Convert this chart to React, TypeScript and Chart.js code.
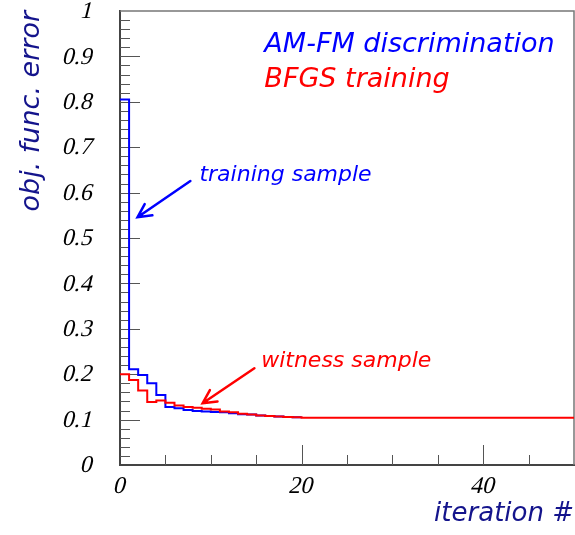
import React, { useEffect, useRef } from "react";
import { Chart, registerables } from "chart.js";

Chart.register(...registerables);

// objective function error per iteration (bin width 1)
const trainingErr = [
  0.805, 0.211, 0.198, 0.18, 0.154, 0.128, 0.125, 0.121, 0.119, 0.118,
  0.117, 0.116, 0.114, 0.112, 0.111, 0.109, 0.108, 0.107, 0.106, 0.105,
];
const witnessErr = [
  0.2, 0.187, 0.164, 0.139, 0.142, 0.137, 0.131, 0.128, 0.126, 0.124,
  0.122, 0.118, 0.116, 0.113, 0.111, 0.109, 0.108, 0.107, 0.106, 0.105,
  0.104, 0.104, 0.104, 0.104, 0.104, 0.104, 0.104, 0.104, 0.104, 0.104,
  0.104, 0.104, 0.104, 0.104, 0.104, 0.104, 0.104, 0.104, 0.104, 0.104,
  0.104, 0.104, 0.104, 0.104, 0.104, 0.104, 0.104, 0.104, 0.104, 0.104,
];

const X_MIN = 0;
const X_MAX = 50;
const Y_MIN = 0;
const Y_MAX = 1;
const X_MAJOR = 20;
const X_MINOR = 5;
const Y_MAJOR = 0.1;
const Y_MINOR = 0.02;

const titleLines = [
  { text: "AM-FM discrimination", color: "#0000ff", x: 15.9, y: 0.91 },
  { text: "BFGS training", color: "#ff0000", x: 15.9, y: 0.833 },
];
const noteTexts = [
  { text: "training sample", color: "#0000ff", x: 8.75, y: 0.626 },
  { text: "witness sample", color: "#ff0000", x: 15.55, y: 0.2165 },
];
const arrows = [
  { color: "#0000ff", from: [7.75, 0.6256], to: [1.93, 0.5456] },
  { color: "#ff0000", from: [14.8, 0.213], to: [9.1, 0.136] },
];

const BLUE = "#0000ff";
const RED = "#ff0000";
const NAVY = "#14148c";
const TICK_FONT = '24px "Liberation Serif", "Times New Roman", serif';
const SLANT = 0.25;

function histPoints(vals: number[]) {
  const pts = vals.map((v, i) => ({ x: i, y: v }));
  pts.push({ x: vals.length, y: vals[vals.length - 1] });
  return pts;
}

function fmtY(v: number) {
  return String(Math.round(v * 10) / 10);
}

function slantText(ctx: CanvasRenderingContext2D, s: string, px: number, py: number) {
  ctx.save();
  ctx.translate(px, py);
  ctx.transform(1, 0, -SLANT, 1, 0, 0);
  ctx.fillText(s, 0, 0);
  ctx.restore();
}

const rootPlugin = {
  id: "rootDecor",
  beforeDatasetsDraw(chart: any) {
    const { ctx, chartArea: a, scales } = chart;
    const x = scales.x;
    const y = scales.y;
    ctx.save();
    // frame (top, right)
    ctx.strokeStyle = "#777";
    ctx.lineWidth = 1.5;
    ctx.beginPath();
    ctx.moveTo(a.left, a.top);
    ctx.lineTo(a.right, a.top);
    ctx.lineTo(a.right, a.bottom);
    ctx.stroke();
    // ticks
    ctx.strokeStyle = "#555";
    ctx.lineWidth = 1;
    ctx.beginPath();
    const nY = Math.round((Y_MAX - Y_MIN) / Y_MINOR);
    for (let k = 1; k < nY; k++) {
      const v = Y_MIN + k * Y_MINOR;
      const isMajor = Math.abs(v / Y_MAJOR - Math.round(v / Y_MAJOR)) < 1e-6;
      const py = Math.round(y.getPixelForValue(v)) + 0.5;
      ctx.moveTo(a.left, py);
      ctx.lineTo(a.left + (isMajor ? 20 : 10), py);
    }
    const nX = Math.round((X_MAX - X_MIN) / X_MINOR);
    for (let k = 1; k < nX; k++) {
      const v = X_MIN + k * X_MINOR;
      const isMajor = v % X_MAJOR === 0;
      const px = Math.round(x.getPixelForValue(v)) + 0.5;
      ctx.moveTo(px, a.bottom);
      ctx.lineTo(px, a.bottom - (isMajor ? 20 : 10));
    }
    ctx.stroke();
    ctx.restore();
  },
  afterDraw(chart: any) {
    const { ctx, scales, chartArea: a } = chart;
    const x = scales.x;
    const y = scales.y;
    ctx.save();
    // tick labels (from the scales' own ticks), slanted like Times italic
    ctx.font = TICK_FONT;
    ctx.fillStyle = "#000";
    ctx.textAlign = "right";
    ctx.textBaseline = "middle";
    for (const t of y.ticks) {
      slantText(ctx, fmtY(t.value), a.left - 27, y.getPixelForValue(t.value) + 1);
    }
    ctx.textAlign = "center";
    ctx.textBaseline = "middle";
    for (const t of x.ticks) {
      if (t.value % X_MAJOR !== 0) continue;
      slantText(ctx, String(t.value), x.getPixelForValue(t.value), a.bottom + 22);
    }

    ctx.textBaseline = "alphabetic";
    ctx.textAlign = "left";
    ctx.font = 'italic 27px "DejaVu Sans"';
    for (const t of titleLines) {
      ctx.fillStyle = t.color;
      ctx.fillText(t.text, x.getPixelForValue(t.x), y.getPixelForValue(t.y));
    }
    ctx.font = 'italic 22px "DejaVu Sans"';
    for (const t of noteTexts) {
      ctx.fillStyle = t.color;
      ctx.fillText(t.text, x.getPixelForValue(t.x), y.getPixelForValue(t.y));
    }
    for (const ar of arrows) {
      const x0 = x.getPixelForValue(ar.from[0]);
      const y0 = y.getPixelForValue(ar.from[1]);
      const x1 = x.getPixelForValue(ar.to[0]);
      const y1 = y.getPixelForValue(ar.to[1]);
      const ang = Math.atan2(y0 - y1, x0 - x1);
      const len = 15;
      const spread = (27 * Math.PI) / 180;
      ctx.strokeStyle = ar.color;
      ctx.lineWidth = 2.5;
      ctx.lineCap = "round";
      ctx.beginPath();
      ctx.moveTo(x0, y0);
      ctx.lineTo(x1, y1);
      ctx.moveTo(x1 + len * Math.cos(ang - spread), y1 + len * Math.sin(ang - spread));
      ctx.lineTo(x1, y1);
      ctx.lineTo(x1 + len * Math.cos(ang + spread), y1 + len * Math.sin(ang + spread));
      ctx.stroke();
    }
    ctx.restore();
  },
};

export default function App() {
  const ref = useRef<HTMLCanvasElement | null>(null);
  useEffect(() => {
    document.body.style.margin = "0";
    const canvas = ref.current;
    if (!canvas) return;
    const xTitleFont = { family: "DejaVu Sans", size: 26, style: "italic" as const };
    const yTitleFont = { family: "DejaVu Sans", size: 27, style: "italic" as const };
    const chart = new Chart(canvas, {
      type: "line",
      data: {
        datasets: [
          {
            label: "witness sample",
            data: histPoints(witnessErr),
            borderColor: RED,
            borderWidth: 2,
            pointRadius: 0,
            stepped: "before",
            fill: false,
          },
          {
            label: "training sample",
            data: histPoints(trainingErr),
            borderColor: BLUE,
            borderWidth: 2,
            pointRadius: 0,
            stepped: "before",
            fill: false,
          },
        ],
      },
      options: {
        animation: false,
        responsive: false,
        maintainAspectRatio: false,
        layout: { padding: { top: 11, right: 1, left: 0, bottom: 0 } },
        plugins: { legend: { display: false }, tooltip: { enabled: false } },
        scales: {
          x: {
            type: "linear",
            min: X_MIN,
            max: X_MAX,
            grid: { display: false, drawTicks: false },
            border: { display: true, color: "#444", width: 2 },
            ticks: {
              display: false,
              stepSize: X_MAJOR,
              includeBounds: false,
            },
            title: {
              display: true,
              text: "iteration #",
              align: "end",
              color: NAVY,
              font: xTitleFont,
              padding: { top: 0, bottom: 5 },
            },
            afterFit: (s: any) => {
              s.height = 70;
              s.paddingLeft = 0;
              s.paddingRight = 0;
            },
          },
          y: {
            type: "linear",
            min: Y_MIN,
            max: Y_MAX,
            grid: { display: false, drawTicks: false },
            border: { display: true, color: "#444", width: 2 },
            ticks: {
              display: false,
              stepSize: Y_MAJOR,
            },
            title: {
              display: true,
              text: "obj. func. error",
              align: "end",
              color: NAVY,
              font: yTitleFont,
              padding: { top: 16, bottom: 0 },
            },
            afterFit: (s: any) => {
              s.width = 120;
              s.paddingTop = 0;
              s.paddingBottom = 0;
            },
          },
        },
      },
      plugins: [rootPlugin],
    });
    return () => chart.destroy();
  }, []);
  return (
    <canvas
      ref={ref}
      width={575}
      height={535}
      style={{ display: "block", width: 575, height: 535 }}
    />
  );
}
